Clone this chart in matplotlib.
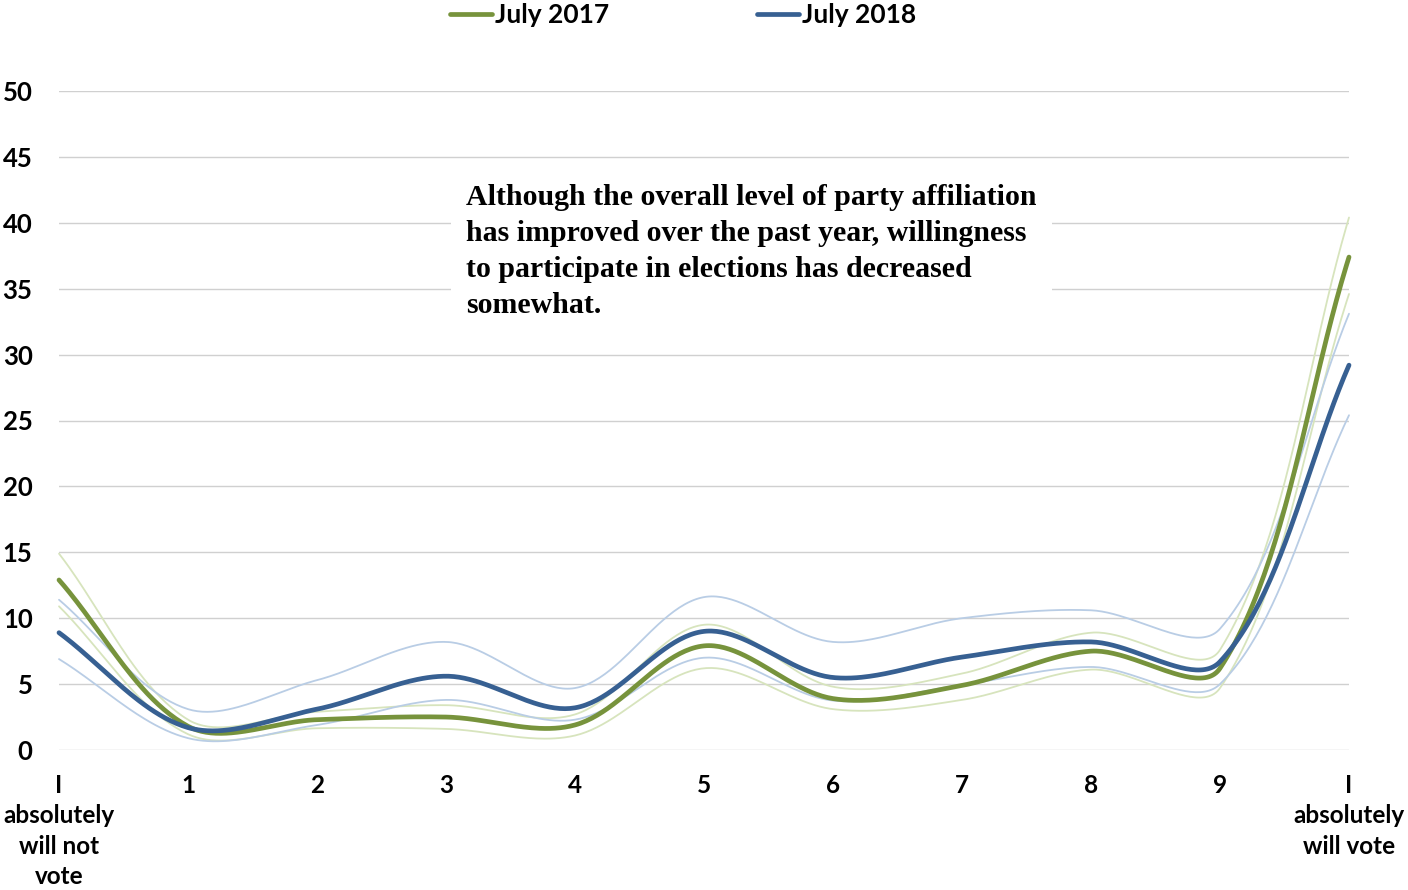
import numpy as np
import matplotlib
matplotlib.use("Agg")
import matplotlib.pyplot as plt

# ---- data ----
x_labels = ["I\nabsolutely\nwill not\nvote", "1", "2", "3", "4", "5", "6", "7", "8", "9",
            "I\nabsolutely\nwill vote"]
july_2017 = [12.9, 1.8, 2.3, 2.5, 1.9, 7.9, 3.9, 4.9, 7.5, 6.2, 37.4]
july_2017_upper = [14.9, 2.3, 2.9, 3.4, 2.7, 9.5, 4.8, 5.8, 8.9, 7.6, 40.4]
july_2017_lower = [10.9, 1.2, 1.65, 1.6, 1.1, 6.2, 3.1, 3.8, 6.1, 4.7, 34.6]
july_2018 = [8.9, 1.7, 3.1, 5.6, 3.2, 9.0, 5.5, 7.05, 8.2, 6.7, 29.2]
july_2018_upper = [11.4, 3.1, 5.3, 8.2, 4.7, 11.6, 8.2, 10.0, 10.6, 9.2, 33.1]
july_2018_lower = [6.9, 0.9, 1.9, 3.8, 2.3, 7.0, 3.75, 4.95, 6.3, 5.0, 25.4]
y_ticks = [0, 5, 10, 15, 20, 25, 30, 35, 40, 45, 50]
note = ("Although the overall level of party affiliation\n"
        "has improved over the past year, willingness\n"
        "to participate in elections has decreased\n"
        "somewhat.")

GREEN = "#77933C"
BLUE = "#376092"
LGREEN = "#d7e4bd"
LBLUE = "#b9cde5"

# pixel scale of one data unit (for Excel-like smoothing in screen space)
SX, SY = 129.0, 13.18


def smooth(xs, ys, n=50):
    """Excel-like smoothed line: Bezier with tangents scaled by segment lengths."""
    P = np.column_stack([np.asarray(xs, float) * SX, np.asarray(ys, float) * SY])
    m = len(P)
    cin = np.zeros_like(P)
    cout = np.zeros_like(P)
    for i in range(m):
        prev = P[i - 1] if i > 0 else P[i]
        nxt = P[i + 1] if i < m - 1 else P[i]
        T = nxt - prev
        dp = np.hypot(*(P[i] - prev))
        dn = np.hypot(*(nxt - P[i]))
        tot = dp + dn if dp + dn > 0 else 1.0
        cout[i] = P[i] + T / 3.0 * dn / tot
        cin[i] = P[i] - T / 3.0 * dp / tot
    t = np.linspace(0, 1, n)[:, None]
    out = []
    for i in range(m - 1):
        p1, c1, c2, p2 = P[i], cout[i], cin[i + 1], P[i + 1]
        seg = (1 - t) ** 3 * p1 + 3 * (1 - t) ** 2 * t * c1 + 3 * (1 - t) * t ** 2 * c2 + t ** 3 * p2
        out.append(seg if i == 0 else seg[1:])
    s = np.vstack(out)
    return s[:, 0] / SX, s[:, 1] / SY


fig = plt.figure(figsize=(14.08, 8.90), dpi=100)
ax = fig.add_axes([59 / 1408, 1 - 750 / 890, (1349 - 59) / 1408, (750 - 91) / 890])

xs = np.arange(len(x_labels))

for ys, c in [(july_2017_upper, LGREEN), (july_2017_lower, LGREEN),
              (july_2018_upper, LBLUE), (july_2018_lower, LBLUE)]:
    sx, sy = smooth(xs, ys)
    ax.plot(sx, sy, color=c, lw=1.3, solid_capstyle="round", zorder=2, clip_on=False)

sx, sy = smooth(xs, july_2017)
l1, = ax.plot(sx, sy, color=GREEN, lw=3.4, solid_capstyle="round", zorder=3,
              label="July 2017", clip_on=False)
sx, sy = smooth(xs, july_2018)
l2, = ax.plot(sx, sy, color=BLUE, lw=3.4, solid_capstyle="round", zorder=4,
              label="July 2018", clip_on=False)

ax.set_xlim(0, 10)
ax.set_ylim(0, 50)
ax.set_yticks(y_ticks)
ax.set_xticks(xs)
ax.set_xticklabels(x_labels, fontsize=17.5, fontweight="bold", family="Lato", linespacing=1.4)
ax.set_yticklabels([str(v) for v in y_ticks], fontsize=18.5, fontweight="bold", family="Lato")
ax.tick_params(axis="both", length=0)
ax.tick_params(axis="y", pad=19)
ax.tick_params(axis="x", pad=17)
for s in ax.spines.values():
    s.set_visible(False)
ax.grid(axis="y", color="#d0d0d0", lw=1.0)
ax.set_axisbelow(True)

ax.text(3.155, 42.95, note, fontsize=21.5, fontweight="bold", family="Liberation Serif",
        va="top", ha="left", linespacing=1.43, zorder=5,
        bbox=dict(facecolor="white", edgecolor="none", pad=11))

fig.legend(handles=[l1, l2], loc="center", bbox_to_anchor=(683 / 1408, 1 - 15 / 890),
           ncol=2, frameon=False, prop=dict(family="Lato", weight="bold", size=19),
           handlelength=1.6, handletextpad=0.1, columnspacing=5.6)

fig.savefig("out.png", dpi=100)
